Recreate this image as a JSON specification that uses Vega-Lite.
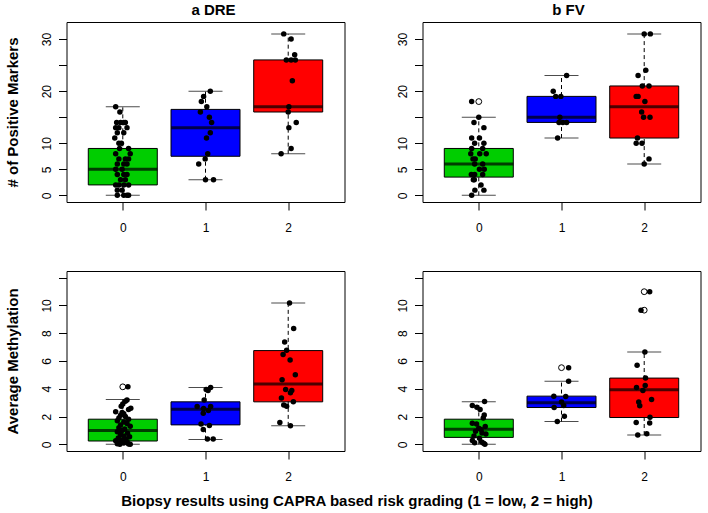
{
  "$schema": "https://vega.github.io/schema/vega-lite/v6.json",
  "autosize": {"type": "pad"},
  "padding": {"left": 4.5, "top": 2, "right": 2, "bottom": 8},
  "background": "white",
  "columns": 2,
  "spacing": {"row": 69, "column": 78},
  "bounds": "flush",
  "datasets": {
    "boxes": [
      {"panel": "DRE_pos", "grp": 0, "lo": 0, "q1": 2, "med": 5, "q3": 9, "hi": 17},
      {"panel": "DRE_pos", "grp": 1, "lo": 3, "q1": 7.5, "med": 13, "q3": 16.5, "hi": 20},
      {"panel": "DRE_pos", "grp": 2, "lo": 8, "q1": 16, "med": 17, "q3": 26, "hi": 31},
      {"panel": "FV_pos", "grp": 0, "lo": 0, "q1": 3.5, "med": 6, "q3": 9, "hi": 15},
      {"panel": "FV_pos", "grp": 1, "lo": 11, "q1": 14, "med": 15, "q3": 19, "hi": 23},
      {"panel": "FV_pos", "grp": 2, "lo": 6, "q1": 11, "med": 17, "q3": 21, "hi": 31},
      {"panel": "DRE_meth", "grp": 0, "lo": 0, "q1": 0.24, "med": 0.99, "q3": 1.81, "hi": 3.23},
      {"panel": "DRE_meth", "grp": 1, "lo": 0.34, "q1": 1.4, "med": 2.53, "q3": 3.06, "hi": 4.1},
      {"panel": "DRE_meth", "grp": 2, "lo": 1.33, "q1": 3.06, "med": 4.34, "q3": 6.75, "hi": 10.17},
      {"panel": "FV_meth", "grp": 0, "lo": 0, "q1": 0.5, "med": 1.08, "q3": 1.81, "hi": 3.06},
      {"panel": "FV_meth", "grp": 1, "lo": 1.64, "q1": 2.65, "med": 2.99, "q3": 3.47, "hi": 4.55},
      {"panel": "FV_meth", "grp": 2, "lo": 0.67, "q1": 1.93, "med": 3.93, "q3": 4.77, "hi": 6.65}
    ],
    "outl": [
      {"panel": "FV_pos", "grp": 0, "v": 18},
      {"panel": "DRE_meth", "grp": 0, "v": 4.14},
      {"panel": "FV_meth", "grp": 1, "v": 5.52},
      {"panel": "FV_meth", "grp": 2, "v": 10.99},
      {"panel": "FV_meth", "grp": 2, "v": 9.66}
    ],
    "pts": [
      {"panel": "DRE_pos", "xj": -0.086, "v": 17},
      {"panel": "DRE_pos", "xj": -0.035, "v": 16},
      {"panel": "DRE_pos", "xj": -0.074, "v": 14},
      {"panel": "DRE_pos", "xj": -0.027, "v": 14},
      {"panel": "DRE_pos", "xj": 0.012, "v": 14},
      {"panel": "DRE_pos", "xj": 0.031, "v": 14},
      {"panel": "DRE_pos", "xj": -0.086, "v": 13},
      {"panel": "DRE_pos", "xj": -0.047, "v": 13},
      {"panel": "DRE_pos", "xj": 0.051, "v": 13},
      {"panel": "DRE_pos", "xj": -0.066, "v": 12},
      {"panel": "DRE_pos", "xj": 0.012, "v": 12},
      {"panel": "DRE_pos", "xj": -0.097, "v": 11},
      {"panel": "DRE_pos", "xj": -0.016, "v": 10},
      {"panel": "DRE_pos", "xj": -0.047, "v": 10},
      {"panel": "DRE_pos", "xj": -0.039, "v": 9},
      {"panel": "DRE_pos", "xj": 0.07, "v": 9},
      {"panel": "DRE_pos", "xj": 0.09, "v": 8},
      {"panel": "DRE_pos", "xj": -0.086, "v": 8},
      {"panel": "DRE_pos", "xj": -0.047, "v": 7},
      {"panel": "DRE_pos", "xj": 0.031, "v": 7},
      {"panel": "DRE_pos", "xj": 0.07, "v": 7},
      {"panel": "DRE_pos", "xj": -0.066, "v": 6},
      {"panel": "DRE_pos", "xj": 0.012, "v": 6},
      {"panel": "DRE_pos", "xj": 0.051, "v": 6},
      {"panel": "DRE_pos", "xj": -0.086, "v": 5},
      {"panel": "DRE_pos", "xj": -0.008, "v": 5},
      {"panel": "DRE_pos", "xj": -0.066, "v": 4},
      {"panel": "DRE_pos", "xj": 0.012, "v": 4},
      {"panel": "DRE_pos", "xj": 0.051, "v": 4},
      {"panel": "DRE_pos", "xj": -0.027, "v": 3},
      {"panel": "DRE_pos", "xj": 0.031, "v": 3},
      {"panel": "DRE_pos", "xj": -0.086, "v": 2},
      {"panel": "DRE_pos", "xj": -0.047, "v": 2},
      {"panel": "DRE_pos", "xj": 0.012, "v": 2},
      {"panel": "DRE_pos", "xj": 0.07, "v": 2},
      {"panel": "DRE_pos", "xj": -0.066, "v": 1},
      {"panel": "DRE_pos", "xj": -0.008, "v": 1},
      {"panel": "DRE_pos", "xj": -0.066, "v": 0},
      {"panel": "DRE_pos", "xj": 0.012, "v": 0},
      {"panel": "DRE_pos", "xj": 0.051, "v": 0},
      {"panel": "DRE_pos", "xj": 0.07, "v": 0},
      {"panel": "DRE_pos", "xj": 1.058, "v": 20},
      {"panel": "DRE_pos", "xj": 0.977, "v": 19},
      {"panel": "DRE_pos", "xj": 0.95, "v": 18},
      {"panel": "DRE_pos", "xj": 1.016, "v": 17},
      {"panel": "DRE_pos", "xj": 0.938, "v": 16},
      {"panel": "DRE_pos", "xj": 1.047, "v": 15},
      {"panel": "DRE_pos", "xj": 1.074, "v": 14},
      {"panel": "DRE_pos", "xj": 1.058, "v": 12},
      {"panel": "DRE_pos", "xj": 1.012, "v": 11},
      {"panel": "DRE_pos", "xj": 1.027, "v": 8},
      {"panel": "DRE_pos", "xj": 0.996, "v": 7},
      {"panel": "DRE_pos", "xj": 0.918, "v": 6},
      {"panel": "DRE_pos", "xj": 1.0, "v": 3},
      {"panel": "DRE_pos", "xj": 1.097, "v": 3},
      {"panel": "DRE_pos", "xj": 1.946, "v": 31},
      {"panel": "DRE_pos", "xj": 2.035, "v": 30},
      {"panel": "DRE_pos", "xj": 2.078, "v": 27},
      {"panel": "DRE_pos", "xj": 1.977, "v": 26},
      {"panel": "DRE_pos", "xj": 2.035, "v": 26},
      {"panel": "DRE_pos", "xj": 2.086, "v": 26},
      {"panel": "DRE_pos", "xj": 2.05, "v": 22},
      {"panel": "DRE_pos", "xj": 2.008, "v": 17},
      {"panel": "DRE_pos", "xj": 2.0, "v": 16},
      {"panel": "DRE_pos", "xj": 2.097, "v": 14},
      {"panel": "DRE_pos", "xj": 2.008, "v": 13},
      {"panel": "DRE_pos", "xj": 2.035, "v": 9},
      {"panel": "DRE_pos", "xj": 1.914, "v": 8},
      {"panel": "FV_pos", "xj": -0.086, "v": 18},
      {"panel": "FV_pos", "xj": 0.0, "v": 15},
      {"panel": "FV_pos", "xj": -0.058, "v": 14},
      {"panel": "FV_pos", "xj": 0.062, "v": 13},
      {"panel": "FV_pos", "xj": -0.086, "v": 11},
      {"panel": "FV_pos", "xj": 0.008, "v": 11},
      {"panel": "FV_pos", "xj": 0.062, "v": 10},
      {"panel": "FV_pos", "xj": -0.05, "v": 10},
      {"panel": "FV_pos", "xj": -0.086, "v": 9},
      {"panel": "FV_pos", "xj": 0.047, "v": 9},
      {"panel": "FV_pos", "xj": -0.097, "v": 8},
      {"panel": "FV_pos", "xj": 0.012, "v": 8},
      {"panel": "FV_pos", "xj": 0.09, "v": 8},
      {"panel": "FV_pos", "xj": -0.07, "v": 7},
      {"panel": "FV_pos", "xj": -0.043, "v": 7},
      {"panel": "FV_pos", "xj": -0.05, "v": 6},
      {"panel": "FV_pos", "xj": 0.047, "v": 6},
      {"panel": "FV_pos", "xj": 0.008, "v": 5},
      {"panel": "FV_pos", "xj": 0.066, "v": 5},
      {"panel": "FV_pos", "xj": -0.09, "v": 4},
      {"panel": "FV_pos", "xj": -0.05, "v": 4},
      {"panel": "FV_pos", "xj": 0.047, "v": 4},
      {"panel": "FV_pos", "xj": -0.066, "v": 3},
      {"panel": "FV_pos", "xj": -0.054, "v": 3},
      {"panel": "FV_pos", "xj": 0.027, "v": 2},
      {"panel": "FV_pos", "xj": -0.047, "v": 1},
      {"panel": "FV_pos", "xj": 0.062, "v": 1},
      {"panel": "FV_pos", "xj": -0.086, "v": 0},
      {"panel": "FV_pos", "xj": 1.062, "v": 23},
      {"panel": "FV_pos", "xj": 0.9, "v": 20},
      {"panel": "FV_pos", "xj": 0.93, "v": 19},
      {"panel": "FV_pos", "xj": 0.992, "v": 19},
      {"panel": "FV_pos", "xj": 0.98, "v": 15},
      {"panel": "FV_pos", "xj": 0.97, "v": 14},
      {"panel": "FV_pos", "xj": 1.016, "v": 14},
      {"panel": "FV_pos", "xj": 1.062, "v": 14},
      {"panel": "FV_pos", "xj": 0.953, "v": 11},
      {"panel": "FV_pos", "xj": 2.0, "v": 31},
      {"panel": "FV_pos", "xj": 2.074, "v": 31},
      {"panel": "FV_pos", "xj": 2.019, "v": 24},
      {"panel": "FV_pos", "xj": 1.926, "v": 23},
      {"panel": "FV_pos", "xj": 1.977, "v": 21},
      {"panel": "FV_pos", "xj": 2.058, "v": 21},
      {"panel": "FV_pos", "xj": 1.903, "v": 19},
      {"panel": "FV_pos", "xj": 1.926, "v": 19},
      {"panel": "FV_pos", "xj": 2.008, "v": 18},
      {"panel": "FV_pos", "xj": 1.969, "v": 16},
      {"panel": "FV_pos", "xj": 1.992, "v": 15},
      {"panel": "FV_pos", "xj": 2.07, "v": 15},
      {"panel": "FV_pos", "xj": 1.918, "v": 11},
      {"panel": "FV_pos", "xj": 1.903, "v": 10},
      {"panel": "FV_pos", "xj": 1.973, "v": 10},
      {"panel": "FV_pos", "xj": 2.058, "v": 7},
      {"panel": "FV_pos", "xj": 2.0, "v": 6},
      {"panel": "DRE_meth", "xj": 0.062, "v": 4.14},
      {"panel": "DRE_meth", "xj": 0.051, "v": 3.2},
      {"panel": "DRE_meth", "xj": 0.031, "v": 3.1},
      {"panel": "DRE_meth", "xj": 0.0, "v": 2.9},
      {"panel": "DRE_meth", "xj": -0.019, "v": 2.75},
      {"panel": "DRE_meth", "xj": 0.097, "v": 2.6},
      {"panel": "DRE_meth", "xj": 0.07, "v": 2.5},
      {"panel": "DRE_meth", "xj": -0.086, "v": 2.35},
      {"panel": "DRE_meth", "xj": -0.008, "v": 2.3},
      {"panel": "DRE_meth", "xj": 0.012, "v": 2.2},
      {"panel": "DRE_meth", "xj": -0.027, "v": 2.1},
      {"panel": "DRE_meth", "xj": 0.031, "v": 2.0},
      {"panel": "DRE_meth", "xj": -0.047, "v": 1.9},
      {"panel": "DRE_meth", "xj": 0.07, "v": 1.8},
      {"panel": "DRE_meth", "xj": -0.066, "v": 1.7},
      {"panel": "DRE_meth", "xj": 0.012, "v": 1.6},
      {"panel": "DRE_meth", "xj": 0.051, "v": 1.5},
      {"panel": "DRE_meth", "xj": -0.027, "v": 1.4},
      {"panel": "DRE_meth", "xj": 0.09, "v": 1.3},
      {"panel": "DRE_meth", "xj": -0.047, "v": 1.2},
      {"panel": "DRE_meth", "xj": 0.023, "v": 1.1},
      {"panel": "DRE_meth", "xj": -0.008, "v": 1.0},
      {"panel": "DRE_meth", "xj": -0.066, "v": 0.9},
      {"panel": "DRE_meth", "xj": 0.058, "v": 0.8},
      {"panel": "DRE_meth", "xj": -0.027, "v": 0.7},
      {"panel": "DRE_meth", "xj": 0.012, "v": 0.6},
      {"panel": "DRE_meth", "xj": 0.082, "v": 0.55},
      {"panel": "DRE_meth", "xj": -0.054, "v": 0.45},
      {"panel": "DRE_meth", "xj": 0.031, "v": 0.4},
      {"panel": "DRE_meth", "xj": -0.008, "v": 0.3},
      {"panel": "DRE_meth", "xj": -0.086, "v": 0.25},
      {"panel": "DRE_meth", "xj": 0.051, "v": 0.2},
      {"panel": "DRE_meth", "xj": -0.027, "v": 0.15},
      {"panel": "DRE_meth", "xj": 0.012, "v": 0.1},
      {"panel": "DRE_meth", "xj": -0.066, "v": 0.05},
      {"panel": "DRE_meth", "xj": 0.07, "v": 0.02},
      {"panel": "DRE_meth", "xj": 0.09, "v": 0.0},
      {"panel": "DRE_meth", "xj": -0.035, "v": 0.0},
      {"panel": "DRE_meth", "xj": 1.062, "v": 4.1},
      {"panel": "DRE_meth", "xj": 1.008, "v": 3.95},
      {"panel": "DRE_meth", "xj": 1.031, "v": 3.88},
      {"panel": "DRE_meth", "xj": 0.984, "v": 3.2},
      {"panel": "DRE_meth", "xj": 0.899, "v": 2.72},
      {"panel": "DRE_meth", "xj": 1.062, "v": 2.72},
      {"panel": "DRE_meth", "xj": 0.977, "v": 2.58},
      {"panel": "DRE_meth", "xj": 1.035, "v": 2.43},
      {"panel": "DRE_meth", "xj": 0.973, "v": 2.24},
      {"panel": "DRE_meth", "xj": 0.946, "v": 1.47},
      {"panel": "DRE_meth", "xj": 1.047, "v": 1.35},
      {"panel": "DRE_meth", "xj": 0.973, "v": 1.06},
      {"panel": "DRE_meth", "xj": 1.023, "v": 0.39},
      {"panel": "DRE_meth", "xj": 1.093, "v": 0.39},
      {"panel": "DRE_meth", "xj": 2.016, "v": 10.17},
      {"panel": "DRE_meth", "xj": 2.066, "v": 8.34},
      {"panel": "DRE_meth", "xj": 1.957, "v": 7.37},
      {"panel": "DRE_meth", "xj": 1.981, "v": 6.77},
      {"panel": "DRE_meth", "xj": 1.938, "v": 6.46},
      {"panel": "DRE_meth", "xj": 2.023, "v": 6.07},
      {"panel": "DRE_meth", "xj": 2.086, "v": 5.01},
      {"panel": "DRE_meth", "xj": 1.926, "v": 4.65},
      {"panel": "DRE_meth", "xj": 1.969, "v": 3.95},
      {"panel": "DRE_meth", "xj": 2.043, "v": 3.88},
      {"panel": "DRE_meth", "xj": 2.027, "v": 3.71},
      {"panel": "DRE_meth", "xj": 1.918, "v": 3.33},
      {"panel": "DRE_meth", "xj": 2.062, "v": 3.06},
      {"panel": "DRE_meth", "xj": 1.946, "v": 2.84},
      {"panel": "DRE_meth", "xj": 1.981, "v": 2.75},
      {"panel": "DRE_meth", "xj": 1.899, "v": 1.57},
      {"panel": "DRE_meth", "xj": 2.027, "v": 1.33},
      {"panel": "FV_meth", "xj": 0.07, "v": 3.08},
      {"panel": "FV_meth", "xj": -0.078, "v": 2.8},
      {"panel": "FV_meth", "xj": -0.023, "v": 2.67},
      {"panel": "FV_meth", "xj": 0.016, "v": 2.5},
      {"panel": "FV_meth", "xj": 0.066, "v": 2.12},
      {"panel": "FV_meth", "xj": 0.054, "v": 1.9},
      {"panel": "FV_meth", "xj": -0.078, "v": 1.52},
      {"panel": "FV_meth", "xj": -0.027, "v": 1.47},
      {"panel": "FV_meth", "xj": 0.078, "v": 1.28},
      {"panel": "FV_meth", "xj": 0.0, "v": 1.16},
      {"panel": "FV_meth", "xj": 0.027, "v": 1.06},
      {"panel": "FV_meth", "xj": -0.039, "v": 0.94},
      {"panel": "FV_meth", "xj": 0.039, "v": 0.82},
      {"panel": "FV_meth", "xj": 0.086, "v": 0.75},
      {"panel": "FV_meth", "xj": -0.058, "v": 0.6},
      {"panel": "FV_meth", "xj": 0.008, "v": 0.43},
      {"panel": "FV_meth", "xj": -0.078, "v": 0.27},
      {"panel": "FV_meth", "xj": 0.035, "v": 0.17},
      {"panel": "FV_meth", "xj": 0.058, "v": 0.07},
      {"panel": "FV_meth", "xj": 0.074, "v": 0.0},
      {"panel": "FV_meth", "xj": -0.05, "v": 0.12},
      {"panel": "FV_meth", "xj": 1.086, "v": 5.52},
      {"panel": "FV_meth", "xj": 1.086, "v": 4.55},
      {"panel": "FV_meth", "xj": 0.907, "v": 3.47},
      {"panel": "FV_meth", "xj": 1.051, "v": 3.45},
      {"panel": "FV_meth", "xj": 1.0, "v": 3.04},
      {"panel": "FV_meth", "xj": 1.027, "v": 2.8},
      {"panel": "FV_meth", "xj": 0.911, "v": 2.65},
      {"panel": "FV_meth", "xj": 1.035, "v": 2.02},
      {"panel": "FV_meth", "xj": 0.949, "v": 1.64},
      {"panel": "FV_meth", "xj": 2.066, "v": 10.99},
      {"panel": "FV_meth", "xj": 1.961, "v": 9.66},
      {"panel": "FV_meth", "xj": 2.008, "v": 6.65},
      {"panel": "FV_meth", "xj": 1.914, "v": 5.69},
      {"panel": "FV_meth", "xj": 2.016, "v": 4.77},
      {"panel": "FV_meth", "xj": 1.907, "v": 4.1},
      {"panel": "FV_meth", "xj": 2.012, "v": 4.24},
      {"panel": "FV_meth", "xj": 1.984, "v": 3.88},
      {"panel": "FV_meth", "xj": 2.089, "v": 3.23},
      {"panel": "FV_meth", "xj": 1.934, "v": 3.04},
      {"panel": "FV_meth", "xj": 1.946, "v": 2.77},
      {"panel": "FV_meth", "xj": 2.07, "v": 1.95},
      {"panel": "FV_meth", "xj": 1.903, "v": 1.57},
      {"panel": "FV_meth", "xj": 2.066, "v": 1.54},
      {"panel": "FV_meth", "xj": 1.922, "v": 0.67},
      {"panel": "FV_meth", "xj": 2.031, "v": 0.77}
    ]
  },
  "concat": [
    {
      "width": 278, "height": 180,
      "title": {"text": "a DRE", "dx": 8},
      "layer": [
        {"data": {"name": "boxes"}, "transform": [{"filter": "datum.panel == 'DRE_pos'"}],
         "mark": {"type": "rule", "color": "black", "strokeDash": [4, 3], "strokeWidth": 1},
         "encoding": {
           "x": {"field": "grp", "type": "quantitative", "scale": {"domain": [-0.62, 2.62], "nice": false, "zero": false},
                 "axis": {"values": [0, 1, 2], "tickCount": 20, "format": "d", "title": null}},
           "y": {"field": "lo", "type": "quantitative", "scale": {"domain": [-1.28, 33.28], "nice": false, "zero": false},
                 "axis": {"values": [0, 5, 10, 15, 20, 25, 30], "tickCount": 20, "format": "d", "labelOverlap": false, "labelExpr": "datum.value == 15 || datum.value == 25 ? '' : datum.label",
                          "title": "# of Positive Markers", "titleX": -54, "titleY": 90, "titleAlign": "center", "titleBaseline": "middle"}},
           "y2": {"field": "hi"}}},
        {"data": {"name": "boxes"}, "transform": [{"filter": "datum.panel == 'DRE_pos'"}],
         "mark": {"type": "tick", "orient": "horizontal", "size": 34, "thickness": 1, "color": "black"},
         "encoding": {"x": {"field": "grp", "type": "quantitative"}, "y": {"field": "lo", "type": "quantitative"}}},
        {"data": {"name": "boxes"}, "transform": [{"filter": "datum.panel == 'DRE_pos'"}],
         "mark": {"type": "tick", "orient": "horizontal", "size": 34, "thickness": 1, "color": "black"},
         "encoding": {"x": {"field": "grp", "type": "quantitative"}, "y": {"field": "hi", "type": "quantitative"}}},
        {"data": {"name": "boxes"}, "transform": [{"filter": "datum.panel == 'DRE_pos'"}],
         "mark": {"type": "bar", "size": 69, "stroke": "black", "strokeWidth": 1, "opacity": 1},
         "encoding": {"x": {"field": "grp", "type": "quantitative"}, "y": {"field": "q1", "type": "quantitative"}, "y2": {"field": "q3"},
                      "color": {"field": "grp", "type": "nominal", "scale": {"domain": [0, 1, 2], "range": ["#00CD00", "#0000FF", "#FF0000"]}, "legend": null}}},
        {"data": {"name": "boxes"}, "transform": [{"filter": "datum.panel == 'DRE_pos'"}],
         "mark": {"type": "tick", "orient": "horizontal", "size": 69, "thickness": 3, "color": "black"},
         "encoding": {"x": {"field": "grp", "type": "quantitative"}, "y": {"field": "med", "type": "quantitative"}}},
        {"data": {"name": "pts"}, "transform": [{"filter": "datum.panel == 'DRE_pos'"}],
         "mark": {"type": "circle", "size": 30, "color": "black", "opacity": 1},
         "encoding": {"x": {"field": "xj", "type": "quantitative"}, "y": {"field": "v", "type": "quantitative"}}}
      ]
    },
    {
      "width": 278, "height": 180,
      "title": {"text": "b FV", "dx": 7},
      "layer": [
        {"data": {"name": "boxes"}, "transform": [{"filter": "datum.panel == 'FV_pos'"}],
         "mark": {"type": "rule", "color": "black", "strokeDash": [4, 3], "strokeWidth": 1},
         "encoding": {
           "x": {"field": "grp", "type": "quantitative", "scale": {"domain": [-0.62, 2.62], "nice": false, "zero": false},
                 "axis": {"values": [0, 1, 2], "tickCount": 20, "format": "d", "title": null}},
           "y": {"field": "lo", "type": "quantitative", "scale": {"domain": [-1.28, 33.28], "nice": false, "zero": false},
                 "axis": {"values": [0, 5, 10, 15, 20, 25, 30], "tickCount": 20, "format": "d", "labelOverlap": false, "labelExpr": "datum.value == 15 || datum.value == 25 ? '' : datum.label", "title": null}},
           "y2": {"field": "hi"}}},
        {"data": {"name": "boxes"}, "transform": [{"filter": "datum.panel == 'FV_pos'"}],
         "mark": {"type": "tick", "orient": "horizontal", "size": 34, "thickness": 1, "color": "black"},
         "encoding": {"x": {"field": "grp", "type": "quantitative"}, "y": {"field": "lo", "type": "quantitative"}}},
        {"data": {"name": "boxes"}, "transform": [{"filter": "datum.panel == 'FV_pos'"}],
         "mark": {"type": "tick", "orient": "horizontal", "size": 34, "thickness": 1, "color": "black"},
         "encoding": {"x": {"field": "grp", "type": "quantitative"}, "y": {"field": "hi", "type": "quantitative"}}},
        {"data": {"name": "boxes"}, "transform": [{"filter": "datum.panel == 'FV_pos'"}],
         "mark": {"type": "bar", "size": 69, "stroke": "black", "strokeWidth": 1, "opacity": 1},
         "encoding": {"x": {"field": "grp", "type": "quantitative"}, "y": {"field": "q1", "type": "quantitative"}, "y2": {"field": "q3"},
                      "color": {"field": "grp", "type": "nominal", "scale": {"domain": [0, 1, 2], "range": ["#00CD00", "#0000FF", "#FF0000"]}, "legend": null}}},
        {"data": {"name": "boxes"}, "transform": [{"filter": "datum.panel == 'FV_pos'"}],
         "mark": {"type": "tick", "orient": "horizontal", "size": 69, "thickness": 3, "color": "black"},
         "encoding": {"x": {"field": "grp", "type": "quantitative"}, "y": {"field": "med", "type": "quantitative"}}},
        {"data": {"name": "outl"}, "transform": [{"filter": "datum.panel == 'FV_pos'"}],
         "mark": {"type": "point", "shape": "circle", "size": 34, "stroke": "black", "fill": "white", "filled": false, "strokeWidth": 1, "opacity": 1},
         "encoding": {"x": {"field": "grp", "type": "quantitative"}, "y": {"field": "v", "type": "quantitative"}}},
        {"data": {"name": "pts"}, "transform": [{"filter": "datum.panel == 'FV_pos'"}],
         "mark": {"type": "circle", "size": 30, "color": "black", "opacity": 1},
         "encoding": {"x": {"field": "xj", "type": "quantitative"}, "y": {"field": "v", "type": "quantitative"}}}
      ]
    },
    {
      "width": 278, "height": 180,
      "layer": [
        {"data": {"name": "boxes"}, "transform": [{"filter": "datum.panel == 'DRE_meth'"}],
         "mark": {"type": "rule", "color": "black", "strokeDash": [4, 3], "strokeWidth": 1},
         "encoding": {
           "x": {"field": "grp", "type": "quantitative", "scale": {"domain": [-0.62, 2.62], "nice": false, "zero": false},
                 "axis": {"values": [0, 1, 2], "tickCount": 20, "format": "d",
                          "title": "Biopsy results using CAPRA based risk grading (1 = low, 2 = high)", "titleX": 290, "titleY": 49, "titleAlign": "center", "titleBaseline": "middle"}},
           "y": {"field": "lo", "type": "quantitative", "scale": {"domain": [-0.48, 12.48], "nice": false, "zero": false},
                 "axis": {"values": [0, 2, 4, 6, 8, 10, 12], "tickCount": 20, "format": "d", "labelOverlap": false, "labelExpr": "datum.value == 12 ? '' : datum.label",
                          "title": "Average Methylation", "titleX": -54, "titleY": 90, "titleAlign": "center", "titleBaseline": "middle"}},
           "y2": {"field": "hi"}}},
        {"data": {"name": "boxes"}, "transform": [{"filter": "datum.panel == 'DRE_meth'"}],
         "mark": {"type": "tick", "orient": "horizontal", "size": 34, "thickness": 1, "color": "black"},
         "encoding": {"x": {"field": "grp", "type": "quantitative"}, "y": {"field": "lo", "type": "quantitative"}}},
        {"data": {"name": "boxes"}, "transform": [{"filter": "datum.panel == 'DRE_meth'"}],
         "mark": {"type": "tick", "orient": "horizontal", "size": 34, "thickness": 1, "color": "black"},
         "encoding": {"x": {"field": "grp", "type": "quantitative"}, "y": {"field": "hi", "type": "quantitative"}}},
        {"data": {"name": "boxes"}, "transform": [{"filter": "datum.panel == 'DRE_meth'"}],
         "mark": {"type": "bar", "size": 69, "stroke": "black", "strokeWidth": 1, "opacity": 1},
         "encoding": {"x": {"field": "grp", "type": "quantitative"}, "y": {"field": "q1", "type": "quantitative"}, "y2": {"field": "q3"},
                      "color": {"field": "grp", "type": "nominal", "scale": {"domain": [0, 1, 2], "range": ["#00CD00", "#0000FF", "#FF0000"]}, "legend": null}}},
        {"data": {"name": "boxes"}, "transform": [{"filter": "datum.panel == 'DRE_meth'"}],
         "mark": {"type": "tick", "orient": "horizontal", "size": 69, "thickness": 3, "color": "black"},
         "encoding": {"x": {"field": "grp", "type": "quantitative"}, "y": {"field": "med", "type": "quantitative"}}},
        {"data": {"name": "outl"}, "transform": [{"filter": "datum.panel == 'DRE_meth'"}],
         "mark": {"type": "point", "shape": "circle", "size": 34, "stroke": "black", "fill": "white", "filled": false, "strokeWidth": 1, "opacity": 1},
         "encoding": {"x": {"field": "grp", "type": "quantitative"}, "y": {"field": "v", "type": "quantitative"}}},
        {"data": {"name": "pts"}, "transform": [{"filter": "datum.panel == 'DRE_meth'"}],
         "mark": {"type": "circle", "size": 30, "color": "black", "opacity": 1},
         "encoding": {"x": {"field": "xj", "type": "quantitative"}, "y": {"field": "v", "type": "quantitative"}}}
      ]
    },
    {
      "width": 278, "height": 180,
      "layer": [
        {"data": {"name": "boxes"}, "transform": [{"filter": "datum.panel == 'FV_meth'"}],
         "mark": {"type": "rule", "color": "black", "strokeDash": [4, 3], "strokeWidth": 1},
         "encoding": {
           "x": {"field": "grp", "type": "quantitative", "scale": {"domain": [-0.62, 2.62], "nice": false, "zero": false},
                 "axis": {"values": [0, 1, 2], "tickCount": 20, "format": "d", "title": null}},
           "y": {"field": "lo", "type": "quantitative", "scale": {"domain": [-0.48, 12.48], "nice": false, "zero": false},
                 "axis": {"values": [0, 2, 4, 6, 8, 10, 12], "tickCount": 20, "format": "d", "labelOverlap": false, "labelExpr": "datum.value == 12 ? '' : datum.label", "title": null}},
           "y2": {"field": "hi"}}},
        {"data": {"name": "boxes"}, "transform": [{"filter": "datum.panel == 'FV_meth'"}],
         "mark": {"type": "tick", "orient": "horizontal", "size": 34, "thickness": 1, "color": "black"},
         "encoding": {"x": {"field": "grp", "type": "quantitative"}, "y": {"field": "lo", "type": "quantitative"}}},
        {"data": {"name": "boxes"}, "transform": [{"filter": "datum.panel == 'FV_meth'"}],
         "mark": {"type": "tick", "orient": "horizontal", "size": 34, "thickness": 1, "color": "black"},
         "encoding": {"x": {"field": "grp", "type": "quantitative"}, "y": {"field": "hi", "type": "quantitative"}}},
        {"data": {"name": "boxes"}, "transform": [{"filter": "datum.panel == 'FV_meth'"}],
         "mark": {"type": "bar", "size": 69, "stroke": "black", "strokeWidth": 1, "opacity": 1},
         "encoding": {"x": {"field": "grp", "type": "quantitative"}, "y": {"field": "q1", "type": "quantitative"}, "y2": {"field": "q3"},
                      "color": {"field": "grp", "type": "nominal", "scale": {"domain": [0, 1, 2], "range": ["#00CD00", "#0000FF", "#FF0000"]}, "legend": null}}},
        {"data": {"name": "boxes"}, "transform": [{"filter": "datum.panel == 'FV_meth'"}],
         "mark": {"type": "tick", "orient": "horizontal", "size": 69, "thickness": 3, "color": "black"},
         "encoding": {"x": {"field": "grp", "type": "quantitative"}, "y": {"field": "med", "type": "quantitative"}}},
        {"data": {"name": "outl"}, "transform": [{"filter": "datum.panel == 'FV_meth'"}],
         "mark": {"type": "point", "shape": "circle", "size": 34, "stroke": "black", "fill": "white", "filled": false, "strokeWidth": 1, "opacity": 1},
         "encoding": {"x": {"field": "grp", "type": "quantitative"}, "y": {"field": "v", "type": "quantitative"}}},
        {"data": {"name": "pts"}, "transform": [{"filter": "datum.panel == 'FV_meth'"}],
         "mark": {"type": "circle", "size": 30, "color": "black", "opacity": 1},
         "encoding": {"x": {"field": "xj", "type": "quantitative"}, "y": {"field": "v", "type": "quantitative"}}}
      ]
    }
  ],
  "config": {
    "font": "Liberation Sans",
    "view": {"stroke": "black", "strokeWidth": 1},
    "title": {"font": "Liberation Sans", "fontSize": 15, "fontWeight": "bold", "color": "black", "offset": 4, "anchor": "middle"},
    "axis": {
      "domain": false, "grid": false, "tickSize": 8, "tickColor": "black", "tickWidth": 1,
      "labelFont": "Liberation Sans", "labelFontSize": 12, "labelColor": "black",
      "titleFont": "Liberation Sans", "titleFontSize": 15, "titleFontWeight": "bold", "titleColor": "black"
    },
    "axisX": {"labelPadding": 12, "labelAngle": 0, "labelFlush": false},
    "axisY": {"labelAngle": -90, "labelAlign": "center", "labelBaseline": "bottom", "labelPadding": 5, "labelFlush": false, "labelOverlap": false}
  }
}
